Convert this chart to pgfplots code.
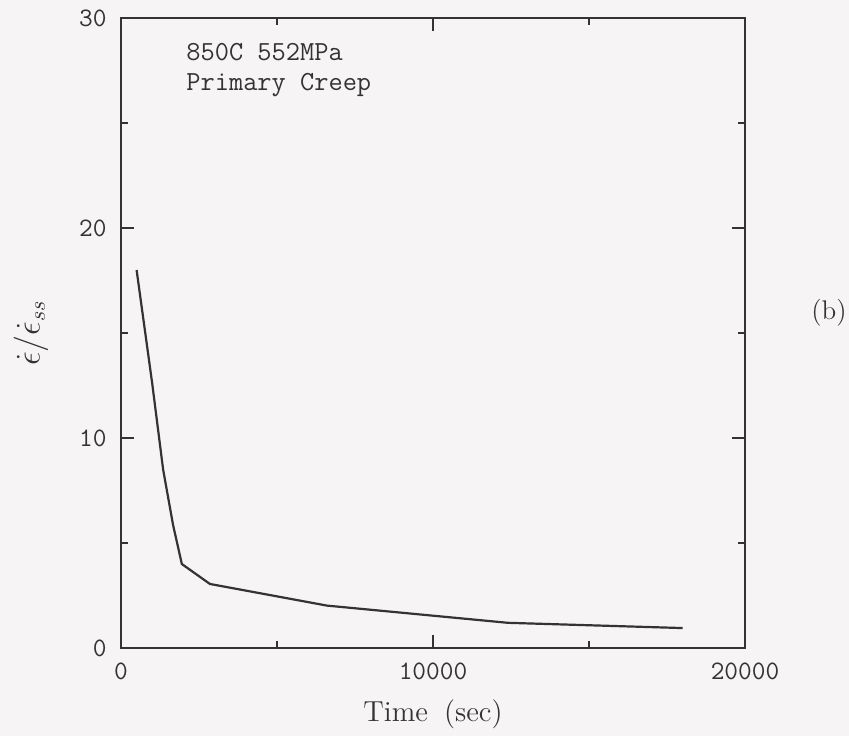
\documentclass[border=0pt]{standalone}
\usepackage{pgfplots}
\pgfplotsset{compat=1.18}
\definecolor{ink}{RGB}{52,50,50}
\definecolor{paper}{RGB}{246,244,244}

\begin{document}
\begin{tikzpicture}
% page background (1px of the reference = 0.5pt)
\fill[paper] (-60.5pt,-44pt) rectangle (364pt,324pt);

\begin{axis}[
  name=ax,
  at={(0,0)}, anchor=south west,
  width=312pt, height=315pt, scale only axis,
  xmin=0, xmax=20000,
  ymin=0, ymax=30,
  xtick={0,10000,20000},
  ytick={0,10,20,30},
  minor xtick={5000,15000},
  minor ytick={5,15,25},
  scaled x ticks=false,
  tick align=inside,
  tick pos=both,
  major tick length=6.3pt,
  minor tick length=3.5pt,
  axis line style={ink, line width=1.3pt},
  tick style={ink, line width=1.1pt},
  ticklabel style={font=\fontsize{13.3}{15}\selectfont\ttfamily, text=ink, inner sep=0pt},
  xticklabel style={yshift=-7.2pt},
  yticklabel style={xshift=-7pt},
  /pgf/number format/assume math mode=true,
  /pgf/number format/1000 sep={},
  clip=false,
]
% normalised creep rate vs time
\addplot[ink, line width=1.1pt] coordinates {
  (500,18.0) (1000,12.6) (1350,8.5) (1670,5.85) (1950,4.0)
  (2850,3.05) (6600,2.02) (12400,1.2) (18000,0.95)
};
\end{axis}

% annotation
\node[anchor=base west, inner sep=0pt, text=ink, font=\fontsize{13.8}{15}\selectfont\ttfamily]
  at (32.5pt,294pt) {850C 552MPa};
\node[anchor=base west, inner sep=0pt, text=ink, font=\fontsize{13.8}{15}\selectfont\ttfamily]
  at (32.5pt,279pt) {Primary Creep};

% axis labels
\node[anchor=base, inner sep=0pt, text=ink, font=\fontsize{14.5}{16}\selectfont]
  at (156pt,-36.5pt) {Time\hspace{0.55em}(sec)};
\node[rotate=90, inner sep=0pt, text=ink, font=\fontsize{16}{18}\selectfont]
  at (-45pt,157.5pt) {$\dot{\epsilon}/\dot{\epsilon}_{ss}$};

% panel tag
\node[inner sep=0pt, text=ink, font=\fontsize{13.5}{15}\selectfont]
  at (354pt,167.5pt) {(b)};
\end{tikzpicture}
\end{document}
